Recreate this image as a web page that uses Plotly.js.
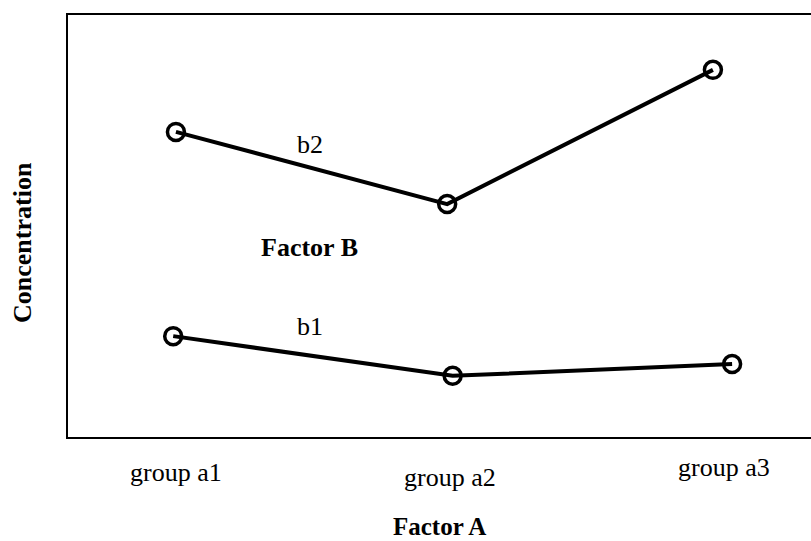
<!DOCTYPE html>
<html>
<head>
<meta charset="utf-8">
<script src="https://cdn.plot.ly/plotly-3.0.1.min.js"></script>
<style>html,body{margin:0;padding:0;background:#fff;}#chart{width:811px;height:541px;}</style>
</head>
<body>
<div id="chart"></div>
<script>
// Category positions (Factor A) and tick labels
const groupLabels = ["group a1", "group a2", "group a3"];
const groupPos = [1, 2, 3];
// Series values (arbitrary concentration units)
const b2X = [1.00, 1.99, 2.96];
const b2Y = [7.23, 5.52, 8.70];
const b1X = [0.99, 2.01, 3.03];
const b1Y = [2.39, 1.45, 1.73];
const seriesNames = ["b1", "b2"];

const font = "Liberation Serif, Times New Roman, serif";

const markerStyle = {symbol: "circle-open", size: 17, color: "#000", line: {width: 3.5, color: "#000"}};

const traces = [
  {x: b2X, y: b2Y, name: seriesNames[1], mode: "lines+markers", line: {color: "#000", width: 4}, marker: markerStyle, showlegend: false, hoverinfo: "skip"},
  {x: b1X, y: b1Y, name: seriesNames[0], mode: "lines+markers", line: {color: "#000", width: 4}, marker: markerStyle, showlegend: false, hoverinfo: "skip"}
];

const tickY = [-0.083, -0.095, -0.073];
const annotations = groupLabels.map((t, i) => ({
  x: groupPos[i], y: tickY[i], xref: "x", yref: "paper", text: t, showarrow: false,
  font: {family: font, size: 26, color: "#000"}, xanchor: "center", yanchor: "middle"
}));
annotations.push(
  {x: 1.489, y: 6.92, xref: "x", yref: "y", text: "b2", showarrow: false, font: {family: font, size: 26, color: "#000"}},
  {x: 1.489, y: 2.63, xref: "x", yref: "y", text: "b1", showarrow: false, font: {family: font, size: 26, color: "#000"}},
  {x: 1.489, y: 4.50, xref: "x", yref: "y", text: "<b>Factor B</b>", showarrow: false, font: {family: font, size: 26, color: "#000"}},
  {x: 0.5, y: -0.211, xref: "paper", yref: "paper", text: "<b>Factor A</b>", showarrow: false, borderpad: 0,
   font: {family: font, size: 25, color: "#000"}, xanchor: "center", yanchor: "middle"},
  {x: -0.062, y: 0.462, xref: "paper", yref: "paper", text: "<b>Concentration</b>", textangle: -90, showarrow: false, font: {family: font, size: 26, color: "#000"}, xanchor: "center", yanchor: "middle"}
);

const layout = {
  width: 811, height: 541,
  margin: {l: 68, r: 0, t: 15, b: 104},
  paper_bgcolor: "#fff", plot_bgcolor: "#fff",
  font: {family: font, color: "#000"},
  xaxis: {range: [0.606, 3.318], showgrid: false, zeroline: false, showticklabels: false, ticks: "",
          showline: true, mirror: true, linecolor: "#000", linewidth: 2},
  yaxis: {range: [0, 10], showgrid: false, zeroline: false, showticklabels: false, ticks: "",
          showline: true, mirror: false, linecolor: "#000", linewidth: 2},
  annotations: annotations
};

Plotly.newPlot("chart", traces, layout, {staticPlot: true, displayModeBar: false});
</script>
</body>
</html>
